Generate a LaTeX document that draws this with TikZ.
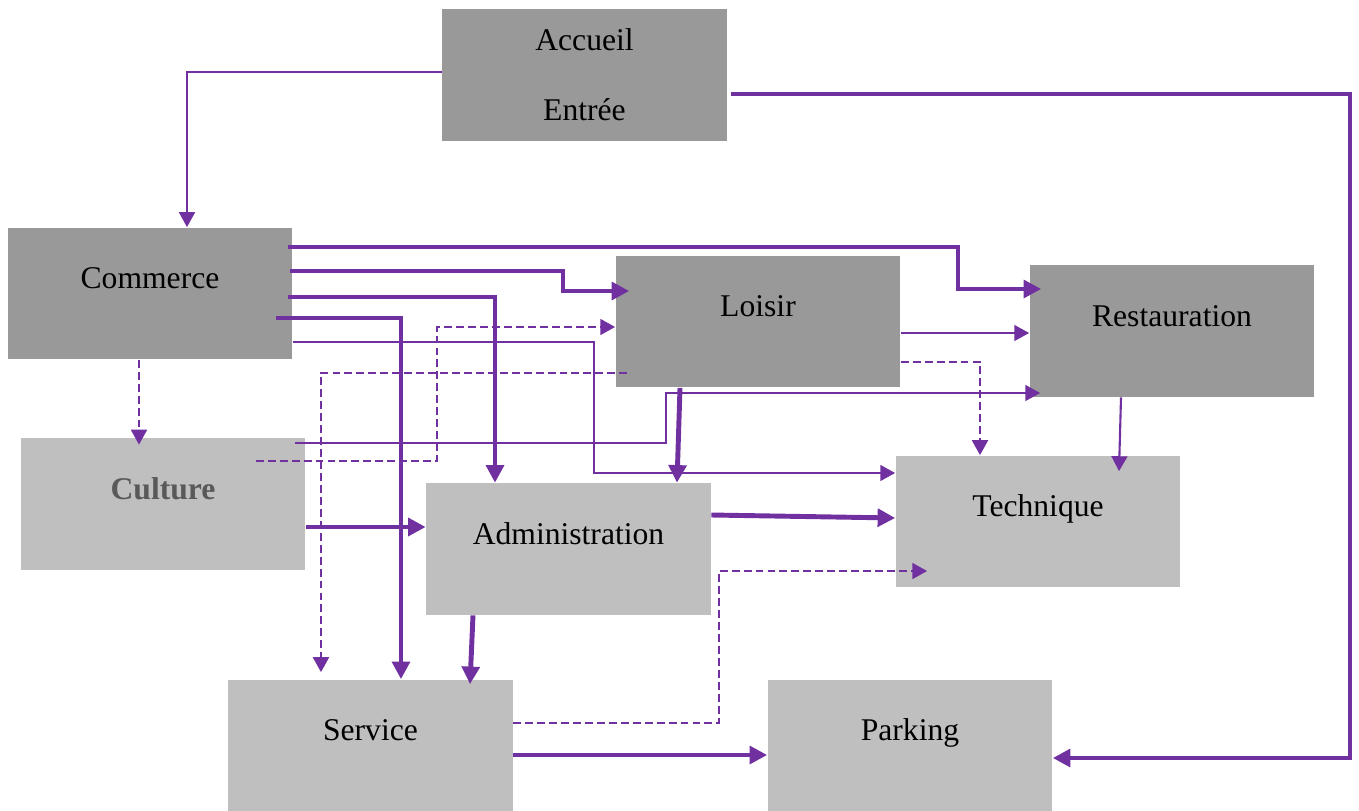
\documentclass[tikz,border=0pt]{standalone}
\usepackage{fontspec}
\setmainfont{Liberation Serif}
\usetikzlibrary{arrows.meta, calc}
\definecolor{mauve}{HTML}{7030A0}
\definecolor{grisfonce}{HTML}{999999}
\definecolor{grisclair}{HTML}{BFBFBF}
\definecolor{grismot}{HTML}{595959}

\begin{document}
\begin{tikzpicture}[x=0.02cm, y=-0.02cm,
        boite/.style={inner sep=0pt, minimum width=5.7cm, minimum height=2.64cm, font=\fontsize{18}{22}\selectfont},
        haut/.style={text height=0.28cm, text depth=0.48cm},
        sombre/.style={boite, fill=grisfonce},
        clair/.style={boite, haut, fill=grisclair},
        fort/.style={mauve, line width=2.8pt, -{Triangle[length=10pt, width=10pt]}},
        fin/.style={mauve, line width=1.2pt, -{Triangle[length=8.5pt, width=9pt]}},
        tiret/.style={mauve, line width=1.4pt, dash pattern=on 4.5pt off 2.3pt, -{Triangle[length=8.5pt, width=9pt]}}]
            \useasboundingbox (0,0) rectangle (1359,811);
            % les zones
            \node[sombre, align=center, font=\fontsize{18}{39.8}\selectfont] (acc) at (584.5,75) {Accueil\\Entrée};
            \node[sombre, haut] (com) at (150,293.5) {Commerce};
            \node[sombre, haut] (loi) at (758,321.5) {Loisir};
            \node[sombre, haut] (res) at (1172,331) {Restauration};
            \node[clair, text=grismot, font=\fontsize{18}{22}\selectfont\bfseries] (cul) at (163,504) {Culture};
            \node[clair] (adm) at (568.5,549) {Administration};
            \node[clair] (tec) at (1038,521.5) {Technique};
            \node[clair] (ser) at (370.5,745.5) {Service};
            \node[clair] (par) at (910,745.5) {Parking};
            % les liaisons
            \draw[fin] (acc.west |- 0,72) -| (187,0 |- com.north);
            \draw[fort] ($(acc.east |- 0,94)+(4,0)$) -- (1350,94) |- (par.east |- 0,758);
            \draw[fort] ($(com.east |- 0,247)+(-5,0)$) -| (958,289) -- ($(res.west |- 0,289)+(12,0)$);
            \draw[fort] ($(com.east |- 0,271)+(-3,0)$) -| (563,291) -- ($(loi.west |- 0,291)+(14,0)$);
            \draw[fort] ($(com.east |- 0,297)+(-5,0)$) -| (495,0 |- adm.north);
            \draw[fort] ($(com.east |- 0,318)+(-17,0)$) -| (401,0 |- ser.north);
            \draw[fin] (com.east |- 0,342) -| (594,473) -- (tec.west |- 0,473);
            \draw[tiret] (139,0 |- com.south) -- ($(139,0 |- cul.north)+(0,7)$);
            \draw[fin] ($(cul.east |- 0,443)+(-11,0)$) -| (666,393) -- ($(res.west |- 0,393)+(11,0)$);
            \draw[tiret] ($(cul.east |- 0,461)+(-50,0)$) -| (437,327) -- (loi.west |- 0,327);
            \draw[tiret] ($(loi.west |- 0,373)+(12,0)$) -| ($(321,0 |- ser.north)+(0,-7)$);
            \draw[fin] (loi.east |- 0,333) -- (res.west |- 0,333);
            \draw[tiret] (loi.east |- 0,362) -| (980,0 |- tec.north);
            \draw[fort] (680,0 |- loi.south) -- (677,0 |- adm.north);
            \draw[fin] (1121,0 |- res.south) -- ($(1119,0 |- tec.north)+(0,16)$);
            \draw[fort] (cul.east |- 0,527) -- (adm.west |- 0,527);
            \draw[fort] (adm.east |- 0,515) -- (tec.west |- 0,518);
            \draw[fort] (473,0 |- adm.south) -- ($(470,0 |- ser.north)+(0,5)$);
            \draw[tiret] (ser.east |- 0,723) -| (719,571) -- ($(tec.west |- 0,571)+(32,0)$);
            \draw[fort] (ser.east |- 0,755) -- (par.west |- 0,755);
\end{tikzpicture}
\end{document}
